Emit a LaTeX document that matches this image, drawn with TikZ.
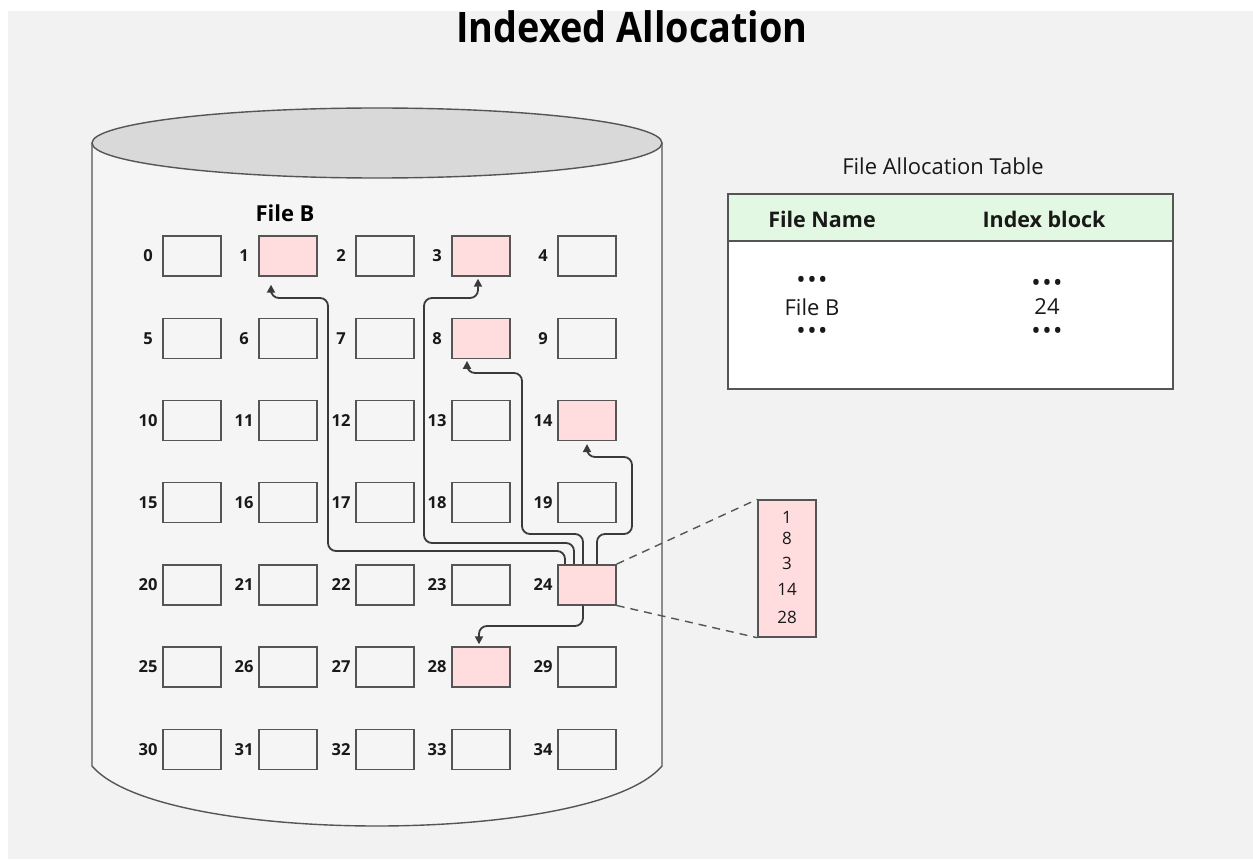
\documentclass[tikz,border=0pt]{standalone}
\usepackage{fontspec}
\setmainfont{Open Sans}
\newfontfamily\titlefont{Open Sans}[FakeStretch=0.9]
\usetikzlibrary{arrows.meta,positioning}
\definecolor{iabg}{RGB}{242,242,242}
\definecolor{iadisk}{RGB}{245,245,245}
\definecolor{ialid}{RGB}{217,217,217}
\definecolor{iaedge}{RGB}{85,85,85}
\definecolor{iapink}{RGB}{255,221,223}
\definecolor{iagreen}{RGB}{226,248,226}
\definecolor{ialink}{RGB}{58,58,58}
\tikzset{
  cell0/.style={rectangle,draw=iaedge,line width=1.4pt,minimum width=58pt,minimum height=40pt,inner sep=0pt},
  cell1/.style={cell0,fill=iapink},
  cellnum/.style={font=\fontsize{16.5}{18}\selectfont\bfseries,inner sep=0pt,text=black!90},
  idxnum/.style={font=\fontsize{17}{20}\selectfont,inner sep=0pt,text=black!90},
  tabtext/.style={font=\fontsize{22}{26}\selectfont,inner sep=0pt,text=black!90},
  tabhead/.style={tabtext,font=\fontsize{21.5}{26}\selectfont\bfseries},
  dotrow/.style={font=\fontsize{25}{27}\selectfont,inner sep=0pt,text=black!90},
  tabbox/.style={draw=iaedge,line width=1.4pt,minimum width=445pt,inner sep=0pt},
  link/.style={-{Triangle[length=8pt,width=8pt]},line width=1.8pt,draw=ialink,rounded corners=8pt},
  zoomline/.style={draw=iaedge,line width=1.4pt,dash pattern=on 8pt off 6pt}
}

\begin{document}
\begin{tikzpicture}[x=1pt,y=-1pt]
  \useasboundingbox (0,0) rectangle (1253,861);
  \fill[white] (0,0) rectangle (1253,861);
  \fill[iabg] (8,11) rectangle (1253,859);
  \node[font=\titlefont\fontsize{42}{48}\selectfont\bfseries,anchor=base,inner sep=0pt] (title) at (632,43) {Indexed Allocation};
  % disk
  \path[fill=iadisk,draw=iaedge,line width=1.4pt] (92,143) -- (92,766) .. controls (160,846) and (594,846) .. (662,766) -- (662,143);
  \draw[fill=ialid,draw=iaedge,line width=1.4pt] (377,143) ellipse [x radius=285,y radius=35];
  \foreach \r in {0,...,6}
    \foreach \c/\x in {0/192,1/288,2/385,3/481,4/587}{
      \pgfmathtruncatemacro\n{5*\r+\c}
      \pgfmathsetmacro\y{256+82.2*\r}
      \pgfmathtruncatemacro\used{(\n==1)||(\n==3)||(\n==8)||(\n==14)||(\n==24)||(\n==28)}
      \node[cell\used] (b\n) at (\x,\y) {};
      \node[cellnum] (l\n) at (\x-44,\y) {\n};
    }
  \node[font=\fontsize{22}{26}\selectfont\bfseries,inner sep=0pt] (fileb) at (285,213) {File B};
  % index block
  \node[cell1,minimum height=137pt] (idx) at (787,568.5) {};
  \foreach \v/\y in {1/517,8/538,3/563,14/589,28/617}
    \node[idxnum] (i\v) at (787,\y) {\v};
  \draw[zoomline] (b24.north east) -- (idx.north west);
  \draw[zoomline] (b24.south east) -- (idx.south west);
  \draw[link,shorten >=8pt] ([xshift=-22]b24.north) |- (328,551) |- (271,298) -- ([xshift=-17]b1.south);
  \draw[link,shorten >=2pt] ([xshift=-13]b24.north) |- (424,543) |- (478,298) -- ([xshift=-3]b3.south);
  \draw[link,shorten >=2pt] ([xshift=-4]b24.north) |- (522,534) |- (467,373) -- ([xshift=-14]b8.south);
  \draw[link,shorten >=3pt] ([xshift=10]b24.north) |- (632,534) |- (587,457) -- (b14.south);
  \draw[link,shorten >=2pt] ([xshift=-4]b24.south) |- (479,626) -- ([xshift=-2]b28.north);
  % file allocation table
  \node[tabtext] (fattitle) at (943,166) {File Allocation Table};
  \node[tabbox,fill=iagreen,minimum height=47pt] (fathead) at (950.5,217.5) {};
  \node[tabbox,fill=white,minimum height=148pt] (fatbody) at (950.5,315) {};
  \node[tabhead] (colname) at (822,219) {File Name};
  \node[tabhead] (colindex) at (1044,219) {Index block};
  \node[dotrow] (dotsa) at (812,282) {•\kern1.5pt•\kern1.5pt•};
  \node[tabtext] (nameb) at (812,307) {File B};
  \node[dotrow] (dotsb) at (812,333) {•\kern1.5pt•\kern1.5pt•};
  \node[dotrow] (dotsc) at (1047,285) {•\kern1.5pt•\kern1.5pt•};
  \node[tabtext] (indexb) at (1047,307) {24};
  \node[dotrow] (dotsd) at (1047,333) {•\kern1.5pt•\kern1.5pt•};
\end{tikzpicture}
\end{document}
